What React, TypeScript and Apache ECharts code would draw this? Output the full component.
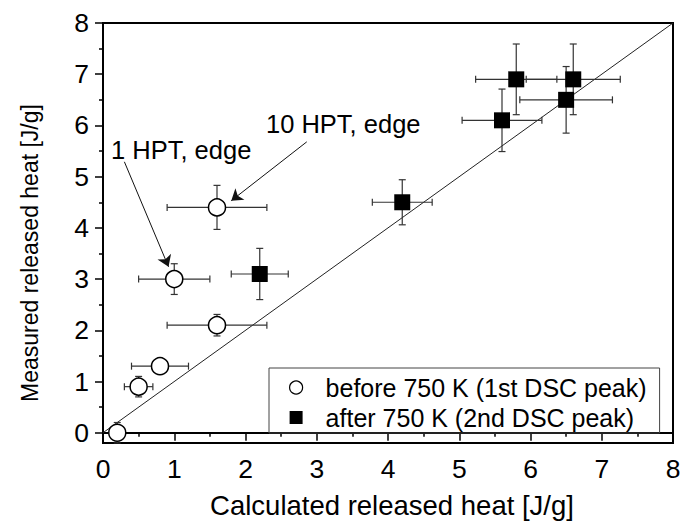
import React, { useEffect, useRef } from "react";
import * as echarts from "echarts";

// ---- data ----
const seriesNames = ["before 750 K (1st DSC peak)", "after 750 K (2nd DSC peak)"];
const beforeX = [0.2, 0.5, 0.8, 1.6, 1.0, 1.6];
const beforeY = [0.0, 0.9, 1.3, 2.1, 3.0, 4.4];
const beforeXErr = [0, 0.2, 0.4, 0.7, 0.5, 0.7];
const beforeYErr = [0.2, 0.2, 0.1, 0.21, 0.3, 0.43];
const afterX = [2.2, 4.2, 5.6, 5.8, 6.5, 6.6];
const afterY = [3.1, 4.5, 6.1, 6.9, 6.5, 6.9];
const afterXErr = [0.4, 0.42, 0.56, 0.57, 0.65, 0.66];
const afterYErr = [0.5, 0.44, 0.61, 0.69, 0.65, 0.69];
const diagonalX = [0, 8];
const diagonalY = [0, 8];
const xTicks = [0, 1, 2, 3, 4, 5, 6, 7, 8];
const yTicks = [0, 1, 2, 3, 4, 5, 6, 7, 8];
const yMinorTicks = [0.5, 1.5, 2.5, 3.5, 4.5, 5.5, 6.5, 7.5];
const xAxisTitle = "Calculated released heat [J/g]";
const yAxisTitle = "Measured released heat [J/g]";
const annotationTexts = ["1 HPT, edge", "10 HPT, edge"];
// arrows: [startX, startY, endX, endY] in data units
const arrow1 = [0.3, 5.29, 0.92, 3.24];
const arrow2 = [2.86, 5.68, 1.8, 4.53];

const FONT = "'Liberation Sans', Arial, sans-serif";

function errData(xs: number[], ys: number[], ex: number[], ey: number[]) {
  return xs.map((x, i) => [x, ys[i], ex[i], ey[i]]);
}

function errorBarRender(params: any, api: any) {
  const x = api.value(0);
  const y = api.value(1);
  const ex = api.value(2);
  const ey = api.value(3);
  const cap = 3.5;
  const style = { stroke: "#333", lineWidth: 1.2 };
  const children: any[] = [];
  if (ex > 0) {
    const l = api.coord([x - ex, y]);
    const r = api.coord([x + ex, y]);
    children.push({ type: "line", shape: { x1: l[0], y1: l[1], x2: r[0], y2: r[1] }, style });
    children.push({ type: "line", shape: { x1: l[0], y1: l[1] - cap, x2: l[0], y2: l[1] + cap }, style });
    children.push({ type: "line", shape: { x1: r[0], y1: r[1] - cap, x2: r[0], y2: r[1] + cap }, style });
  }
  if (ey > 0) {
    const t = api.coord([x, y + ey]);
    const b = api.coord([x, y - ey]);
    children.push({ type: "line", shape: { x1: t[0], y1: t[1], x2: b[0], y2: b[1] }, style });
    children.push({ type: "line", shape: { x1: t[0] - cap, y1: t[1], x2: t[0] + cap, y2: t[1] }, style });
    children.push({ type: "line", shape: { x1: b[0] - cap, y1: b[1], x2: b[0] + cap, y2: b[1] }, style });
  }
  return { type: "group", children };
}

export default function App() {
  const ref = useRef<HTMLDivElement>(null);
  useEffect(() => {
    if (!ref.current) return;
    const chart = echarts.init(ref.current, null, { renderer: "svg" });
    const axisLineStyle = { color: "#000", width: 2 };
    const option: any = {
      animation: false,
      backgroundColor: "#fff",
      textStyle: { fontFamily: FONT },
      grid: {
        left: 103,
        right: 19,
        top: 23,
        bottom: 83,
        show: true,
        borderColor: "#000",
        borderWidth: 2,
        backgroundColor: "transparent",
      },
      legend: {
        orient: "vertical",
        left: 269,
        top: 368,
        data: [
          { name: seriesNames[0], icon: "circle", itemStyle: { color: "#fff", borderColor: "#000", borderWidth: 1.2 } },
          { name: seriesNames[1], icon: "rect", itemStyle: { color: "#000" } },
        ],
        itemWidth: 13,
        itemHeight: 13,
        itemGap: 5,
        padding: [7, 13, 3, 20],
        borderColor: "#444",
        borderWidth: 1,
        borderRadius: 0,
        textStyle: { fontSize: 25, fontFamily: FONT, color: "#000", lineHeight: 25, padding: [0, 0, 0, 18] },
      },
      xAxis: {
        type: "value",
        min: 0,
        max: 8,
        interval: 1,
        name: xAxisTitle,
        nameLocation: "middle",
        nameGap: 48,
        nameTextStyle: { fontSize: 27.5, fontFamily: FONT, color: "#000", padding: [0, 0, 0, 8] },
        axisLine: { show: true, lineStyle: axisLineStyle },
        axisTick: { show: true, length: 8, lineStyle: { color: "#000", width: 1.5 }, customValues: xTicks },
        minorTick: { show: true, splitNumber: 2, length: 4, lineStyle: { color: "#000", width: 1.5 } },
        axisLabel: { fontSize: 26.5, fontFamily: FONT, color: "#000", margin: 12, customValues: xTicks },
        splitLine: { show: false },
      },
      yAxis: [
        {
          type: "value",
          min: -0.2,
          max: 8,
          name: yAxisTitle,
          nameLocation: "middle",
          nameGap: 62,
          nameTextStyle: { fontSize: 23, fontFamily: FONT, color: "#000", padding: [0, 40, 0, 0] },
          axisLine: { show: true, lineStyle: axisLineStyle },
          axisTick: { show: true, length: 8, lineStyle: { color: "#000", width: 1.5 }, customValues: yTicks },
          axisLabel: { fontSize: 26.5, fontFamily: FONT, color: "#000", margin: 14, customValues: yTicks },
          splitLine: { show: false },
        },
        {
          type: "value",
          min: -0.2,
          max: 8,
          position: "left",
          axisLine: { show: false },
          axisTick: { show: true, length: 4, lineStyle: { color: "#000", width: 1.5 }, customValues: yMinorTicks },
          axisLabel: { show: false, customValues: yMinorTicks },
          splitLine: { show: false },
        },
      ],
      graphic: [
        { type: "text", left: 111, top: 137, style: { text: annotationTexts[0], fontSize: 25.5, fontFamily: FONT, fill: "#000" } },
        { type: "text", left: 266, top: 111, style: { text: annotationTexts[1], fontSize: 25.5, fontFamily: FONT, fill: "#000" } },
      ],
      series: [
        {
          type: "line",
          name: "diagonal",
          data: diagonalX.map((x, i) => [x, diagonalY[i]]),
          showSymbol: false,
          symbol: "none",
          lineStyle: { color: "#222", width: 1 },
          z: 1,
          silent: true,
          markLine: {
            silent: true,
            symbol: ["none", "arrow"],
            symbolSize: 11,
            label: { show: false },
            lineStyle: { color: "#111", width: 1, type: "solid" },
            itemStyle: { color: "#111" },
            data: [
              [{ coord: [arrow1[0], arrow1[1]] }, { coord: [arrow1[2], arrow1[3]] }],
              [{ coord: [arrow2[0], arrow2[1]] }, { coord: [arrow2[2], arrow2[3]] }],
            ],
          },
        },
        {
          type: "custom",
          name: "errBefore",
          renderItem: errorBarRender,
          encode: { x: 0, y: 1 },
          data: errData(beforeX, beforeY, beforeXErr, beforeYErr),
          z: 2,
          silent: true,
          clip: false,
        },
        {
          type: "custom",
          name: "errAfter",
          renderItem: errorBarRender,
          encode: { x: 0, y: 1 },
          data: errData(afterX, afterY, afterXErr, afterYErr),
          z: 2,
          silent: true,
          clip: false,
        },
        {
          type: "scatter",
          name: seriesNames[0],
          data: beforeX.map((x, i) => [x, beforeY[i]]),
          symbol: "circle",
          symbolSize: 17,
          itemStyle: { color: "#fff", borderColor: "#000", borderWidth: 1.5, opacity: 1 },
          z: 3,
        },
        {
          type: "scatter",
          name: seriesNames[1],
          data: afterX.map((x, i) => [x, afterY[i]]),
          symbol: "rect",
          symbolSize: 16,
          itemStyle: { color: "#000", opacity: 1 },
          z: 3,
        },
      ],
    };
    chart.setOption(option);
    return () => chart.dispose();
  }, []);
  return (
    <div
      ref={ref}
      style={{ position: "fixed", left: 0, top: 0, width: 692, height: 526, background: "#fff" }}
    />
  );
}
